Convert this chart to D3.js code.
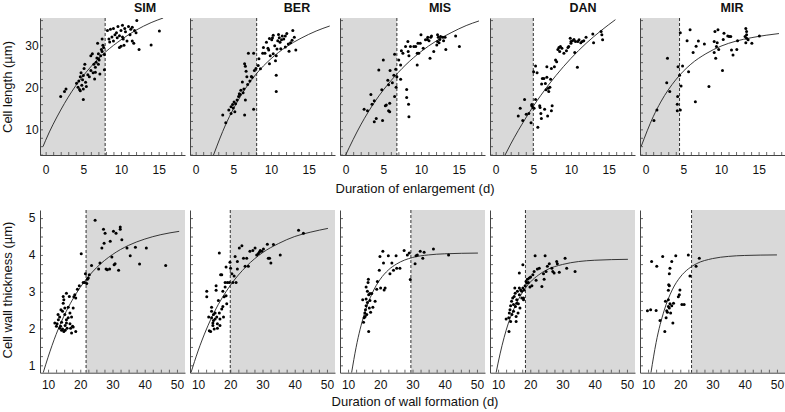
<!DOCTYPE html>
<html>
<head>
<meta charset="utf-8">
<script src="https://cdn.jsdelivr.net/npm/d3@7/dist/d3.min.js"></script>
<style>
  html, body { margin: 0; padding: 0; background: #fff; }
  svg { display: block; font-family: "Liberation Sans", Arial, Helvetica, sans-serif; }
</style>
</head>
<body>
<svg id="chart" width="785" height="412"></svg>
<script>
// ---------------- DATA ----------------
const sites = ["SIM", "BER", "MIS", "DAN", "MIR"];

// Duration of enlargement (d) vs cell length (µm)
const simLength = [[2.0,17.8],[2.5,19.0],[2.7,19.6],[4.1,21.0],[4.3,20.0],[4.4,21.5],[4.5,19.5],[4.6,22.5],[4.7,23.5],[4.8,20.5],[4.9,21.8],[5.0,22.8],[5.0,17.1],[5.1,24.5],[5.2,25.5],[5.3,21.2],[5.4,20.2],[4.6,19.2],[5.0,19.6],[5.6,23.0],[5.8,22.5],[6.0,24.0],[6.0,27.5],[6.2,28.0],[6.3,23.5],[6.4,25.5],[6.5,22.0],[6.6,24.8],[6.7,26.0],[6.8,27.0],[6.9,30.5],[7.0,25.5],[7.0,28.0],[7.1,26.5],[7.2,23.2],[7.3,27.5],[7.4,29.0],[7.5,28.5],[7.5,31.5],[7.6,30.0],[7.7,29.5],[7.8,27.8],[7.8,24.2],[7.0,26.8],[6.6,23.6],[8.2,33.5],[8.4,31.5],[8.6,33.8],[8.8,32.0],[9.0,31.0],[9.0,34.0],[9.2,32.5],[9.4,33.0],[9.5,31.8],[9.6,34.5],[9.8,32.3],[10.0,33.5],[10.0,29.8],[10.2,34.8],[10.2,32.0],[10.4,30.0],[10.5,34.0],[10.6,33.2],[10.8,31.0],[11.0,34.5],[11.2,32.5],[11.3,33.8],[11.5,34.3],[11.5,31.0],[11.7,30.5],[12.0,33.0],[12.1,35.9],[12.4,29.0],[14.0,30.1],[15.1,33.4],[11.8,33.5],[9.8,29.5],[10.3,31.5],[8.5,30.8]];
const berLength = [[3.6,13.4],[4.0,11.6],[4.4,14.6],[4.7,15.4],[4.9,15.9],[5.0,15.1],[4.7,13.8],[5.1,16.5],[5.3,16.1],[5.2,14.2],[5.5,17.0],[5.7,17.8],[5.8,18.5],[5.9,18.3],[6.0,19.3],[6.3,18.7],[6.4,19.6],[6.5,25.6],[6.6,25.0],[6.7,23.8],[6.8,22.5],[6.2,21.3],[6.6,17.0],[6.5,13.4],[6.9,20.7],[7.0,28.1],[7.2,21.5],[7.4,22.6],[7.5,22.4],[7.7,28.1],[7.8,24.0],[7.7,14.8],[8.0,24.5],[8.3,25.2],[8.4,26.8],[8.6,24.4],[8.9,28.1],[9.2,28.1],[9.4,30.7],[9.6,29.3],[9.7,28.9],[9.8,31.6],[9.8,25.6],[9.9,27.5],[10.1,31.3],[10.2,31.8],[10.3,32.4],[10.5,29.9],[10.6,26.3],[10.7,27.5],[10.7,19.0],[10.7,22.9],[10.8,29.1],[10.9,31.1],[11.0,32.6],[11.1,31.8],[11.2,30.7],[11.3,29.2],[11.4,31.3],[11.5,32.2],[11.7,31.5],[11.9,32.2],[12.1,32.8],[12.3,30.3],[12.4,28.6],[12.6,30.6],[12.8,31.2],[12.9,33.5],[13.1,31.9],[13.3,28.9],[11.9,29.6],[10.3,28.0],[9.0,29.5]];
const misLength = [[2.45,14.8],[2.9,14.4],[3.35,18.3],[3.5,16.0],[3.8,16.8],[3.8,11.8],[4.06,12.6],[4.4,24.1],[4.8,19.4],[4.9,12.1],[5.0,26.5],[5.27,15.6],[5.4,15.8],[5.6,21.7],[5.7,20.6],[5.7,14.4],[5.85,14.2],[5.9,24.0],[5.85,16.2],[6.2,21.1],[6.4,22.9],[6.5,17.8],[6.5,27.9],[6.65,24.3],[6.7,20.0],[6.8,22.5],[7.05,26.5],[7.3,21.9],[7.4,28.7],[7.3,25.3],[7.6,28.1],[7.95,29.7],[8.1,19.5],[8.1,17.6],[8.26,30.9],[8.35,16.0],[8.4,13.0],[8.3,28.5],[8.4,27.5],[8.6,29.7],[9.06,29.7],[9.3,29.7],[9.5,25.3],[9.5,28.1],[9.6,30.5],[9.9,30.5],[9.7,28.1],[10.0,32.5],[10.3,29.3],[10.6,31.3],[10.85,31.4],[10.9,31.9],[11.07,31.1],[11.2,26.9],[11.3,31.9],[11.4,32.2],[11.7,28.5],[12.1,30.1],[12.2,32.5],[12.3,31.9],[12.4,30.6],[12.5,31.4],[12.6,32.1],[12.9,31.9],[13.0,31.1],[13.2,31.9],[13.3,29.0],[14.6,32.2],[15.1,29.7],[12.2,30.9]];
const danLength = [[3.0,13.2],[3.26,15.0],[3.6,12.1],[3.84,17.1],[4.06,13.6],[4.4,13.8],[4.7,11.6],[4.8,15.9],[4.8,15.6],[4.95,15.2],[5.04,23.7],[5.1,15.0],[5.3,17.1],[5.3,25.1],[5.5,23.5],[5.6,10.5],[5.85,15.6],[5.9,15.2],[6.0,13.8],[6.07,12.6],[6.1,20.8],[6.2,22.1],[6.4,22.1],[6.5,14.8],[6.6,20.9],[6.7,19.4],[6.8,22.4],[6.8,24.9],[6.9,13.2],[7.0,19.8],[7.05,19.0],[7.2,20.0],[7.3,21.9],[7.4,24.5],[7.4,14.4],[7.5,15.6],[7.8,24.9],[7.95,26.5],[8.1,26.1],[8.26,29.0],[8.4,29.5],[8.5,28.5],[8.6,29.7],[8.8,29.3],[9.06,28.1],[9.4,28.7],[9.6,29.5],[9.7,29.7],[9.9,31.7],[10.0,30.9],[10.0,30.5],[10.2,31.1],[10.4,31.4],[10.5,28.3],[10.6,30.9],[10.85,24.8],[10.9,30.9],[11.07,31.3],[11.3,30.6],[11.5,30.9],[11.7,31.1],[12.0,31.9],[12.9,32.7],[13.0,30.6],[14.0,33.3],[14.1,32.5],[14.2,31.3]];
const mirLength = [[1.1,12.1],[1.5,14.6],[2.9,26.9],[2.8,21.1],[3.2,19.0],[4.2,16.0],[4.2,14.4],[4.25,17.8],[4.3,24.9],[4.5,22.9],[4.6,33.0],[4.6,14.6],[4.7,20.3],[4.9,25.1],[5.5,31.1],[5.7,23.7],[5.9,33.7],[6.3,28.3],[6.6,16.6],[6.7,29.8],[7.0,31.0],[7.8,30.3],[8.4,20.2],[9.1,30.9],[9.1,28.3],[9.2,33.3],[9.3,26.9],[9.4,29.7],[9.5,30.6],[9.6,33.7],[9.7,29.0],[10.2,24.0],[10.3,31.4],[10.4,32.9],[10.9,32.2],[11.1,32.1],[11.3,32.1],[11.4,28.9],[11.6,27.7],[12.1,29.0],[12.2,31.1],[13.3,34.0],[13.4,33.3],[13.4,32.5],[13.4,31.7],[13.3,30.6],[13.6,31.3],[14.1,30.5],[15.1,32.2],[13.2,32.1]];

// fitted curves
const simLengthCurve = [[-0.35,5.9],[0,7.4],[2,14.6],[4,20.4],[6,24.9],[8,28.5],[10,31.3],[12,33.6],[14,35.4],[15.6,36.5]];
const berLengthCurve = [[2.37,3.9],[4,11.2],[6,18.0],[8,23.1],[10,26.8],[12,29.6],[14,31.7],[16,33.4],[17.8,34.6]];
const misLengthCurve = [[0,3.9],[2,11.05],[4,16.9],[6,21.55],[8,25.4],[10,28.5],[12,31.0],[14,33.0],[16,34.7],[17.7,35.8]];
const danLengthCurve = [[1.25,3.9],[2,6.5],[4,12.7],[6,18.1],[8,22.8],[10,26.9],[12,30.45],[14,33.5],[15.9,36.1]];
const mirLengthCurve = [[-0.58,6.0],[1,13.0],[2,16.5],[4,21.8],[6,25.5],[8,28.0],[10,29.8],[12,31.0],[14,31.8],[16,32.4],[17.7,32.8]];

// Duration of wall formation (d) vs cell wall thickness (µm)
const simWall = [[12.8,2.13],[13.2,2.24],[13.6,2.31],[13.9,2.06],[14.2,2.17],[14.5,2.47],[14.7,2.69],[14.9,2.78],[15.2,2.56],[14.5,1.99],[14.9,1.92],[15.3,2.08],[15.7,2.15],[15.9,2.01],[16.25,2.58],[16.6,2.87],[16.8,2.42],[17.0,2.01],[17.3,2.31],[17.6,2.06],[17.8,2.56],[18.0,2.86],[18.3,2.92],[18.6,2.83],[19.1,3.07],[19.7,3.16],[20.3,4.03],[20.9,3.25],[21.35,3.25],[21.6,3.49],[22.0,3.22],[22.2,3.34],[22.5,3.37],[22.8,3.46],[23.5,3.71],[24.6,4.94],[25.7,3.62],[26.1,3.78],[26.7,4.19],[27.2,4.70],[27.4,4.32],[27.7,4.59],[28.0,3.62],[28.4,3.60],[29.1,3.62],[29.3,4.37],[29.8,3.94],[30.3,4.64],[30.5,3.73],[30.8,3.76],[31.1,4.59],[31.9,3.58],[32.4,4.70],[32.4,4.76],[32.9,4.41],[34.5,4.19],[35.5,3.98],[37.1,4.21],[38.4,3.75],[40.5,4.19],[46.5,3.71],[13.1,2.38],[14.0,2.51],[15.2,2.38],[15.7,2.24],[16.8,2.13],[17.3,1.88],[18.6,1.92],[17.8,2.04],[16.25,2.29],[14.2,1.95],[13.6,2.01],[12.6,2.06],[12.1,2.15],[15.3,1.95],[14.7,2.87],[15.7,2.96]];
const berWall = [[12.7,3.01],[12.7,2.86],[13.3,2.31],[13.5,1.94],[13.9,1.92],[14.2,2.58],[14.2,2.47],[14.2,2.29],[14.6,2.15],[14.6,2.08],[14.8,2.38],[14.8,2.22],[15.0,1.99],[15.3,2.42],[15.3,2.26],[15.6,3.16],[15.6,3.04],[15.8,2.31],[16.0,2.13],[16.0,2.01],[16.3,2.76],[16.6,2.42],[16.6,4.05],[16.8,2.26],[16.8,2.08],[17.0,3.46],[17.35,3.46],[17.35,2.53],[17.7,3.01],[17.7,2.60],[17.9,2.31],[18.1,2.86],[18.4,3.25],[18.4,3.13],[18.7,2.89],[18.7,3.67],[18.9,2.67],[19.1,3.25],[19.7,3.25],[19.9,3.80],[20.1,3.64],[20.5,3.49],[20.8,3.25],[21.2,3.43],[21.5,3.96],[21.8,3.25],[22.2,3.82],[22.2,3.62],[22.8,4.19],[23.6,4.25],[24.1,3.91],[24.6,3.69],[25.1,3.91],[25.6,3.69],[26.1,4.10],[27.0,4.12],[27.7,4.19],[28.2,4.00],[28.7,4.03],[29.0,4.07],[29.3,4.12],[29.8,4.10],[30.3,4.16],[31.5,4.29],[31.8,3.91],[32.2,3.91],[32.6,3.78],[33.4,4.28],[35.5,4.00],[41.2,4.67],[42.7,4.59]];
const misWall = [[14.55,2.78],[14.8,2.17],[15.0,2.29],[15.2,2.42],[15.4,2.51],[15.6,3.13],[15.6,2.62],[15.8,2.38],[16.0,3.01],[16.2,3.25],[16.3,3.34],[16.4,1.92],[16.0,2.71],[16.6,2.56],[16.8,2.76],[17.0,2.44],[17.35,2.95],[17.7,2.58],[18.4,2.74],[18.9,3.07],[19.1,3.28],[19.7,3.58],[19.9,3.96],[20.1,3.10],[20.8,4.10],[21.0,3.78],[21.2,3.05],[21.5,3.10],[22.5,3.98],[23.0,3.49],[23.6,3.78],[24.1,3.58],[24.9,3.98],[25.1,3.64],[26.1,3.64],[27.4,4.12],[28.4,4.00],[29.0,4.05],[29.3,3.33],[30.8,3.76],[31.1,3.98],[31.5,4.00],[32.4,4.10],[33.2,3.91],[33.6,4.07],[36.5,4.16],[41.2,4.00],[16.8,2.95],[16.4,2.92],[15.3,2.33],[15.6,2.80]];
const danWall = [[12.5,2.26],[13.3,2.29],[13.4,1.92],[13.5,2.42],[13.7,2.51],[13.9,2.62],[13.9,2.19],[14.2,2.74],[14.3,2.38],[14.55,2.83],[14.8,2.65],[14.8,2.47],[15.0,2.87],[15.2,3.10],[15.3,2.96],[15.4,2.60],[15.6,2.19],[15.6,2.33],[15.8,2.78],[16.0,3.01],[16.2,2.42],[16.3,2.67],[16.6,3.51],[16.6,2.92],[16.8,2.56],[17.0,3.05],[17.35,3.01],[17.7,3.73],[17.7,3.10],[17.9,2.78],[17.9,2.83],[18.1,3.05],[18.4,3.16],[18.7,3.28],[18.9,3.24],[19.1,3.34],[19.4,3.25],[19.7,3.37],[19.9,3.13],[20.1,3.40],[20.5,3.16],[20.8,3.46],[21.2,3.55],[21.5,3.98],[21.8,3.31],[22.2,3.62],[22.8,3.64],[23.6,3.14],[24.1,3.49],[24.3,3.34],[24.6,3.98],[24.9,3.55],[25.3,3.69],[25.9,3.76],[26.7,3.64],[27.0,3.55],[27.4,3.51],[28.2,3.82],[28.4,3.76],[29.0,3.53],[30.8,3.91],[31.3,3.64],[33.9,3.55],[16.6,3.10],[15.8,2.69],[17.35,2.83]];
const mirWall = [[9.8,2.48],[10.8,2.51],[11.1,3.82],[12.5,2.49],[12.7,3.69],[13.7,2.22],[14.55,3.96],[15.4,2.74],[15.6,2.29],[15.8,2.48],[16.0,2.44],[16.3,2.78],[16.3,3.04],[16.4,3.19],[16.6,3.16],[16.6,3.49],[16.8,3.64],[16.6,2.56],[16.8,2.67],[17.0,2.42],[17.35,3.82],[17.35,2.62],[17.7,2.15],[17.9,2.69],[18.6,3.98],[19.4,2.86],[19.7,2.92],[19.9,3.05],[20.5,2.65],[21.2,2.65],[22.5,4.00],[23.0,3.43],[24.9,3.69],[25.9,3.91],[15.2,1.92],[16.3,2.60]];

const simWallCurve = [[8.5,0.8],[10,1.22],[12.5,1.84],[15,2.35],[17.5,2.77],[20,3.12],[22.5,3.41],[25,3.65],[30,4.01],[35,4.26],[40,4.43],[45,4.55],[50.7,4.64]];
const berWallCurve = [[7.8,0.8],[10,1.39],[12.5,1.96],[15,2.44],[20,3.17],[25,3.69],[30,4.06],[35,4.31],[40,4.50],[45,4.62],[50.3,4.72]];
const misWallCurve = [[11.1,0.8],[12.5,1.49],[15,2.38],[17.5,2.96],[20,3.34],[22.5,3.59],[25,3.75],[30,3.93],[35,4.00],[40,4.03],[50.3,4.05]];
const danWallCurve = [[9.4,0.8],[10,1.06],[12.5,1.95],[15,2.55],[17.5,2.97],[20,3.26],[22.5,3.45],[25,3.59],[30,3.74],[35,3.82],[40,3.855],[50.3,3.88]];
const mirWallCurve = [[10.9,0.8],[12.5,1.62],[15,2.49],[17.5,3.05],[20,3.40],[22.5,3.62],[25,3.76],[30,3.90],[35,3.96],[40,3.985],[50,4.0]];

// end of enlargement / start of wall formation cut-offs (dashed lines)
const enlargeCut = [7.9, 8.1, 6.8, 5.0, 4.5];
const wallCut = [21.8, 20.0, 29.5, 18.5, 23.5];

// ticks
const lenXLabels = [0, 5, 10, 15];
const lenYLabels = [10, 20, 30];
const wallXLabels = [10, 20, 30, 40, 50];
const wallYLabels = [1, 2, 3, 4, 5];

const lengthSets = [simLength, berLength, misLength, danLength, mirLength];
const lengthCurves = [simLengthCurve, berLengthCurve, misLengthCurve, danLengthCurve, mirLengthCurve];
const wallSets = [simWall, berWall, misWall, danWall, mirWall];
const wallCurves = [simWallCurve, berWallCurve, misWallCurve, danWallCurve, mirWallCurve];

// ---------------- LAYOUT ----------------
const svg = d3.select("#chart");
const panelW = 145, panelStep = 150, left0 = 40;
const titleOffsets = [105, 107, 100, 93, 92];
const rows = [
  { top: 18, bottom: 155, xDom: [-0.75, 18.5], yDom: [3.9, 36.5],
    xMinor: d3.range(0, 19, 1), yMinor: d3.range(4, 37, 2),
    xLab: lenXLabels, yLab: lenYLabels, sets: lengthSets, curves: lengthCurves,
    cuts: enlargeCut, shadeLeft: true, xPad: 10, yTitle: "Cell length (\u00b5m)",
    xTitle: "Duration of enlargement (d)", xTitleY: 193 },
  { top: 210, bottom: 372.7, xDom: [7.5, 52.5], yDom: [0.8, 5.22],
    xMinor: d3.range(10, 50.01, 2.5), yMinor: d3.range(1, 5.01, 0.25),
    xLab: wallXLabels, yLab: wallYLabels, sets: wallSets, curves: wallCurves,
    cuts: wallCut, shadeLeft: false, xPad: 8, yTitle: "Cell wall thickness (\u00b5m)",
    xTitle: "Duration of wall formation (d)", xTitleY: 405.5 }
];

const axisColor = "#444";
const defs = svg.append("defs");

rows.forEach((row, ri) => {
  sites.forEach((site, i) => {
    const x0 = left0 + i * panelStep;
    const x = d3.scaleLinear().domain(row.xDom).range([x0, x0 + panelW]);
    const y = d3.scaleLinear().domain(row.yDom).range([row.bottom, row.top]);
    const g = svg.append("g");
    const clipId = `clip-${ri}-${i}`;
    defs.append("clipPath").attr("id", clipId)
      .append("rect").attr("x", x0).attr("y", row.top)
      .attr("width", panelW).attr("height", row.bottom - row.top);

    // shading
    const cx = x(row.cuts[i]);
    g.append("rect")
      .attr("x", row.shadeLeft ? x0 : cx)
      .attr("y", row.top)
      .attr("width", row.shadeLeft ? cx - x0 : x0 + panelW - cx)
      .attr("height", row.bottom - row.top)
      .attr("fill", "#d9d9d9");

    // dashed line
    g.append("line")
      .attr("x1", cx).attr("x2", cx)
      .attr("y1", row.top).attr("y2", row.bottom)
      .attr("stroke", "#333").attr("stroke-width", 1)
      .attr("stroke-dasharray", "3,2");

    // minor ticks (inward)
    const xAxisMinor = d3.axisBottom(x).tickValues(row.xMinor).tickSize(-3).tickSizeOuter(0).tickFormat("");
    const yAxisMinor = d3.axisLeft(y).tickValues(row.yMinor).tickSize(-3).tickSizeOuter(0).tickFormat("");
    const gx = g.append("g").attr("transform", `translate(0,${row.bottom})`).call(xAxisMinor);
    const gy = g.append("g").attr("transform", `translate(${x0},0)`).call(yAxisMinor);
    [gx, gy].forEach(a => {
      a.select(".domain").attr("stroke", axisColor).attr("stroke-width", 1);
      a.selectAll(".tick line").attr("stroke", axisColor).attr("stroke-width", 0.8);
    });

    // x labels
    const xLabAxis = d3.axisBottom(x).tickValues(row.xLab).tickSize(0).tickPadding(row.xPad).tickFormat(d3.format("d"));
    const gxl = g.append("g").attr("transform", `translate(0,${row.bottom})`).call(xLabAxis);
    gxl.select(".domain").remove();
    gxl.selectAll("text").attr("font-size", 12).attr("fill", "#111")
      .attr("font-family", "'Liberation Sans', Arial, sans-serif");

    // y labels only on first panel
    if (i === 0) {
      const yLabAxis = d3.axisLeft(y).tickValues(row.yLab).tickSize(0).tickPadding(8).tickFormat(d3.format("d"));
      const gyl = g.append("g").attr("transform", `translate(${x0},0)`).call(yLabAxis);
      gyl.select(".domain").remove();
      gyl.selectAll("text").attr("font-size", 12).attr("fill", "#111")
        .attr("text-anchor", "middle").attr("x", -8)
        .attr("font-family", "'Liberation Sans', Arial, sans-serif");
    }

    // curve
    const line = d3.line().x(d => x(d[0])).y(d => y(d[1])).curve(d3.curveMonotoneX);
    g.append("path").datum(row.curves[i])
      .attr("d", line)
      .attr("fill", "none").attr("stroke", "#222").attr("stroke-width", 0.9)
      .attr("clip-path", `url(#${clipId})`);

    // points
    g.append("g").attr("clip-path", `url(#${clipId})`)
      .selectAll("circle").data(row.sets[i]).join("circle")
      .attr("cx", d => x(d[0])).attr("cy", d => y(d[1]))
      .attr("r", 1.5).attr("fill", "#000");

    // site title (top row only)
    if (ri === 0) {
      svg.append("text").attr("x", x0 + titleOffsets[i]).attr("y", 11.5)
        .attr("text-anchor", "middle").attr("font-size", 12.5).attr("font-weight", "bold")
        .attr("fill", "#111").text(site);
    }
  });

  // y title
  const midY = ri === 0 ? 87 : 290;
  svg.append("text")
    .attr("transform", `translate(11.5,${midY}) rotate(-90)`)
    .attr("text-anchor", "middle").attr("font-size", 13).attr("fill", "#111")
    .text(row.yTitle);

  // x title
  svg.append("text").attr("x", 415).attr("y", row.xTitleY)
    .attr("text-anchor", "middle").attr("font-size", 13).attr("fill", "#111")
    .text(row.xTitle);
});
</script>
</body>
</html>
